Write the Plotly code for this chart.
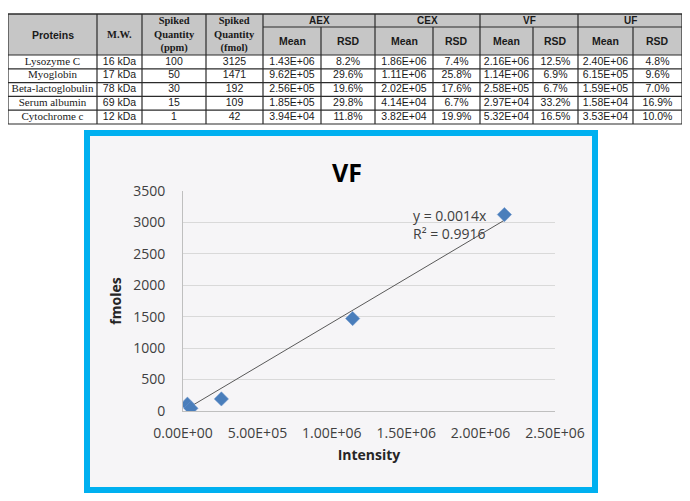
import numpy as np
import plotly.graph_objs as go

# table data
proteins = ['Lysozyme C', 'Myoglobin', 'Beta-lactoglobulin', 'Serum albumin', 'Cytochrome c']
mw = ['16 kDa', '17 kDa', '78 kDa', '69 kDa', '12 kDa']
ppm = [100, 50, 30, 15, 1]
fmol = [3125, 1471, 192, 109, 42]
aex_mean = [1.43e6, 9.62e5, 2.56e5, 1.85e5, 3.94e4]
aex_rsd = [8.2, 29.6, 19.6, 29.8, 11.8]
cex_mean = [1.86e6, 1.11e6, 2.02e5, 4.14e4, 3.82e4]
cex_rsd = [7.4, 25.8, 17.6, 6.7, 19.9]
vf_mean = [2.16e6, 1.14e6, 2.58e5, 2.97e4, 5.32e4]
vf_rsd = [12.5, 6.9, 6.7, 33.2, 16.5]
uf_mean = [2.40e6, 6.15e5, 1.59e5, 1.58e4, 3.53e4]
uf_rsd = [4.8, 9.6, 7.0, 16.9, 10.0]
groups = ['AEX', 'CEX', 'VF', 'UF']

x_ticks = [0, 5e5, 1e6, 1.5e6, 2e6, 2.5e6]
y_ticks = [0, 500, 1000, 1500, 2000, 2500, 3000, 3500]

W, H = 690, 501
OFF = 8  # page body margin: figure starts 8px in from the window corner
SERIF = 'Liberation Serif'
SANS = 'Liberation Sans'
CHART_FONT = 'Open Sans'


def px(x):
    return (x - OFF) / W


def py(y):
    return 1 - (y - OFF) / H


# table geometry, in window pixels (table axes are mapped to those)
col_edges = [8, 97, 142, 206, 263, 321, 375, 433, 480, 533, 578, 633, 682]
head_top, head_mid, head_bot = 14, 27, 55
row_h = 13.8
row_edges = [head_bot + i * row_h for i in range(len(proteins) + 1)]

shapes = []
annotations = []


def cx(i):
    return (col_edges[i] + col_edges[i + 1]) / 2


# header background
shapes.append(dict(type='rect', xref='x2', yref='y2', x0=col_edges[0], x1=col_edges[-1],
                   y0=head_top, y1=head_bot, fillcolor='#c6c6c6', line=dict(width=0), layer='below'))
# horizontal lines
for y in [head_top, head_bot] + row_edges[1:]:
    shapes.append(dict(type='line', xref='x2', yref='y2', x0=col_edges[0], x1=col_edges[-1],
                       y0=y, y1=y, line=dict(color='#2b2b2b', width=1.6 if y == head_top else 1.2)))
shapes.append(dict(type='line', xref='x2', yref='y2', x0=col_edges[4], x1=col_edges[-1],
                   y0=head_mid, y1=head_mid, line=dict(color='#2b2b2b', width=1)))
# vertical lines
for i, x in enumerate(col_edges):
    top = head_mid if (i >= 5 and i % 2 == 1) else head_top
    shapes.append(dict(type='line', xref='x2', yref='y2', x0=x, x1=x,
                       y0=top, y1=row_edges[-1], line=dict(color='#2b2b2b', width=1.2)))

# header text
hy = (head_top + head_bot) / 2
heads = [('<b>Proteins</b>', SANS), ('<b>M.W.</b>', SERIF),
         ('<b>Spiked<br>Quantity<br>(ppm)</b>', SERIF), ('<b>Spiked<br>Quantity<br>(fmol)</b>', SERIF)]
for i, (t, fam) in enumerate(heads):
    annotations.append(dict(xref='x2', yref='y2', x=cx(i), y=hy, text=t, showarrow=False,
                            font=dict(family=fam, size=10.5, color='#1a1a1a')))
for g, name in enumerate(groups):
    c0 = 4 + 2 * g
    annotations.append(dict(xref='x2', yref='y2', x=(col_edges[c0] + col_edges[c0 + 2]) / 2,
                            y=(head_top + head_mid) / 2, text='<b>' + name + '</b>', showarrow=False,
                            font=dict(family=SANS, size=10, color='#1a1a1a')))
    for k, sub in enumerate(['Mean', 'RSD']):
        annotations.append(dict(xref='x2', yref='y2', x=cx(c0 + k), y=(head_mid + head_bot) / 2,
                                text='<b>' + sub + '</b>', showarrow=False,
                                font=dict(family=SANS, size=10.5, color='#1a1a1a')))

# body text as text traces on the table axes
means = [aex_mean, cex_mean, vf_mean, uf_mean]
rsds = [aex_rsd, cex_rsd, vf_rsd, uf_rsd]
name_x, name_y = [], []
val_x, val_y, val_t = [], [], []
for r in range(len(proteins)):
    ry = (row_edges[r] + row_edges[r + 1]) / 2
    name_x.append(cx(0))
    name_y.append(ry)
    cells = [mw[r], str(ppm[r]), str(fmol[r])]
    for g in range(4):
        cells += ['%.2E' % means[g][r], '%.1f%%' % rsds[g][r]]
    for c, t in enumerate(cells):
        val_x.append(cx(c + 1))
        val_y.append(ry)
        val_t.append(t)

# chart
slope = np.sum(np.array(vf_mean) * np.array(fmol)) / np.sum(np.array(vf_mean) ** 2)
line_x = [min(vf_mean), max(vf_mean)]
line_y = [slope * v for v in line_x]

data = [
    go.Scatter(x=line_x, y=line_y, mode='lines', line=dict(color='#595959', width=1),
               hoverinfo='skip', showlegend=False),
    go.Scatter(x=vf_mean, y=fmol, mode='markers',
               marker=dict(symbol='diamond', size=11, color='#4a7ebb',
                           line=dict(width=0.5, color='#6a95cc')),
               showlegend=False),
    go.Scatter(x=name_x, y=name_y, xaxis='x2', yaxis='y2', mode='text', text=proteins,
               textfont=dict(family=SERIF, size=11, color='#1a1a1a'), hoverinfo='skip',
               showlegend=False),
    go.Scatter(x=val_x, y=val_y, xaxis='x2', yaxis='y2', mode='text', text=val_t,
               textfont=dict(family=SANS, size=10.5, color='#1a1a1a'), hoverinfo='skip',
               showlegend=False),
]

# chart frame
shapes.insert(0, dict(type='rect', xref='paper', yref='paper', x0=px(87), x1=px(595),
                      y0=py(490), y1=py(133), fillcolor='#f6f5f7',
                      line=dict(color='#00b0f0', width=6), layer='below'))

annotations += [
    dict(xref='paper', yref='paper', x=px(347), y=py(153), text='<b>VF</b>', showarrow=False,
         font=dict(family=CHART_FONT, size=25, color='#000000')),
    dict(xref='paper', yref='paper', x=px(411), y=py(224), xanchor='left',
         text='y = 0.0014x<br>R² = 0.9916', showarrow=False, align='left',
         font=dict(family=CHART_FONT, size=14, color='#404040')),
]

layout = go.Layout(
    width=W, height=H,
    margin=dict(l=0, r=0, t=0, b=0),
    paper_bgcolor='white',
    plot_bgcolor='rgba(0,0,0,0)',
    showlegend=False,
    xaxis=dict(domain=[px(183), px(555)], range=[0, 2.5e6], tickvals=x_ticks,
               ticktext=['%.2E' % v for v in x_ticks], showgrid=False, zeroline=False,
               showline=True, linecolor='#bfbfbf', linewidth=1, ticklabelstandoff=9,
               automargin=False,
               tickfont=dict(family=CHART_FONT, size=14, color='#404040'),
               title=dict(text='<b>Intensity</b>', standoff=9,
                          font=dict(family=CHART_FONT, size=14, color='#262626'))),
    yaxis=dict(domain=[py(411), py(191)], range=[0, 3500], tickvals=y_ticks,
               showgrid=True, gridcolor='#d9d9d9', gridwidth=1, zeroline=False,
               showline=True, linecolor='#bfbfbf', linewidth=1, ticklabelstandoff=14,
               automargin=False,
               tickfont=dict(family=CHART_FONT, size=14, color='#404040'),
               title=dict(text='<b>fmoles</b>', standoff=8,
                          font=dict(family=CHART_FONT, size=14, color='#262626'))),
    xaxis2=dict(domain=[0, 1], range=[OFF, OFF + W], visible=False, anchor='y2',
                fixedrange=True, automargin=False),
    yaxis2=dict(domain=[0, 1], range=[OFF + H, OFF], visible=False, anchor='x2',
                fixedrange=True, automargin=False),
    shapes=shapes,
    annotations=annotations,
)

fig = go.Figure(data=data, layout=layout)
fig.write_html('out.html')
